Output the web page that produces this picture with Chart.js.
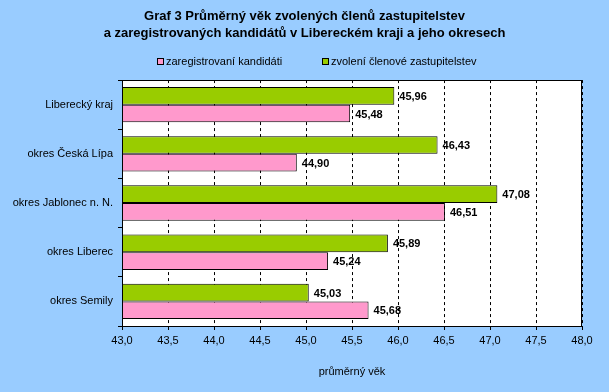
<!DOCTYPE html>
<html>
<head>
<meta charset="utf-8">
<script src="https://cdn.jsdelivr.net/npm/chart.js@4"></script>
<style>
  html, body { margin: 0; padding: 0; background: #99ccff; }
  #wrap { width: 609px; height: 392px; }
</style>
</head>
<body>
<div id="wrap"><canvas id="chart" width="609" height="392"></canvas></div>
<script>
const categories = ["Liberecký kraj", "okres Česká Lípa", "okres Jablonec n. N.", "okres Liberec", "okres Semily"];
const elected = [45.96, 46.43, 47.08, 45.89, 45.03];
const registered = [45.48, 44.90, 46.51, 45.24, 45.68];
const titleLines = ["Graf 3 Průměrný věk zvolených členů zastupitelstev", "a zaregistrovaných kandidátů v Libereckém kraji a jeho okresech"];
const axisTitle = "průměrný věk";

const FONT = "Arial, 'Liberation Sans', sans-serif";
const fmt = (v, d) => v.toFixed(d).replace(".", ",");

const plotBg = {
  id: "plotBg",
  beforeDraw(chart) {
    const { ctx, chartArea: a } = chart;
    ctx.save();
    ctx.fillStyle = "#99ccff";
    ctx.fillRect(0, 0, chart.width, chart.height);
    ctx.fillStyle = "#ffffff";
    ctx.fillRect(a.left, a.top, a.right - a.left, a.bottom - a.top);
    ctx.restore();
  },
  afterDraw(chart) {
    const { ctx, chartArea: a } = chart;
    ctx.save();
    ctx.strokeStyle = "#000";
    ctx.lineWidth = 1;
    ctx.strokeRect(Math.round(a.left) + 0.5, Math.round(a.top) + 0.5, Math.round(a.right - a.left) - 1, Math.round(a.bottom - a.top));
    ctx.restore();
  },
};

const valueLabels = {
  id: "valueLabels",
  afterDatasetsDraw(chart) {
    const { ctx } = chart;
    ctx.save();
    ctx.font = "bold 11px " + FONT;
    ctx.fillStyle = "#000";
    ctx.textBaseline = "middle";
    chart.data.datasets.forEach((ds, i) => {
      chart.getDatasetMeta(i).data.forEach((bar, j) => {
        ctx.fillText(fmt(ds.data[j], 2), bar.x + 5, bar.y + 1);
      });
    });
    ctx.restore();
  },
};

// legend drawn by hand so the item spacing matches the original
const customLegend = {
  id: "customLegend",
  afterDraw(chart) {
    const { ctx } = chart;
    const items = [chart.data.datasets[1], chart.data.datasets[0]];
    const xs = [157, 322];
    ctx.save();
    ctx.font = "11px " + FONT;
    ctx.textBaseline = "middle";
    items.forEach((ds, i) => {
      ctx.fillStyle = ds.backgroundColor;
      ctx.fillRect(xs[i], 58, 6, 6);
      ctx.strokeStyle = "#000";
      ctx.lineWidth = 1;
      ctx.strokeRect(xs[i] + 0.5, 58.5, 6, 6);
      ctx.fillStyle = "#000";
      ctx.fillText(ds.label, xs[i] + 9, 62);
    });
    ctx.restore();
  },
};

new Chart(document.getElementById("chart"), {
  type: "bar",
  data: {
    labels: categories,
    datasets: [
      {
        label: "zvolení členové zastupitelstev",
        data: elected,
        backgroundColor: "#99cc00",
        borderColor: "#000",
        borderWidth: 1,
        barPercentage: 1,
        categoryPercentage: 0.72,
      },
      {
        label: "zaregistrovaní kandidáti",
        data: registered,
        backgroundColor: "#ff99cc",
        borderColor: "#000",
        borderWidth: 1,
        barPercentage: 1,
        categoryPercentage: 0.72,
      },
    ],
  },
  options: {
    indexAxis: "y",
    responsive: false,
    animation: false,
    layout: { padding: 0 },
    plugins: {
      legend: { display: false },
      tooltip: { enabled: false },
      title: {
        display: true,
        text: titleLines,
        color: "#000",
        font: { family: FONT, size: 13, weight: "bold", lineHeight: 1.31 },
        padding: { top: 8, bottom: 38 },
      },
    },
    scales: {
      x: {
        min: 43,
        max: 48,
        afterFit(scale) { scale.height = 66; },
        ticks: {
          stepSize: 0.5,
          color: "#000",
          font: { family: FONT, size: 11 },
          padding: 4,
          callback: (v) => fmt(v, 1),
        },
        grid: {
          color: "#000",
          tickColor: "#000",
          tickLength: 4,
          tickBorderDash: [],
        },
        border: { display: false, dash: [3, 3] },
        title: {
          display: true,
          text: axisTitle,
          color: "#000",
          font: { family: FONT, size: 11 },
          padding: { top: 0, bottom: 13 },
        },
      },
      y: {
        afterFit(scale) { scale.width = 122; },
        ticks: {
          color: "#000",
          font: { family: FONT, size: 11 },
          padding: 5,
        },
        grid: {
          drawOnChartArea: false,
          color: "#000",
          tickLength: 4,
        },
        border: { display: false },
      },
      // empty right-hand axis: only keeps a blue margin right of the plot
      yRight: {
        axis: "y",
        position: "right",
        afterFit(scale) { scale.width = 27; },
        ticks: { display: false },
        grid: { display: false },
        border: { display: false },
      },
    },
  },
  plugins: [plotBg, valueLabels, customLegend],
});
</script>
</body>
</html>
